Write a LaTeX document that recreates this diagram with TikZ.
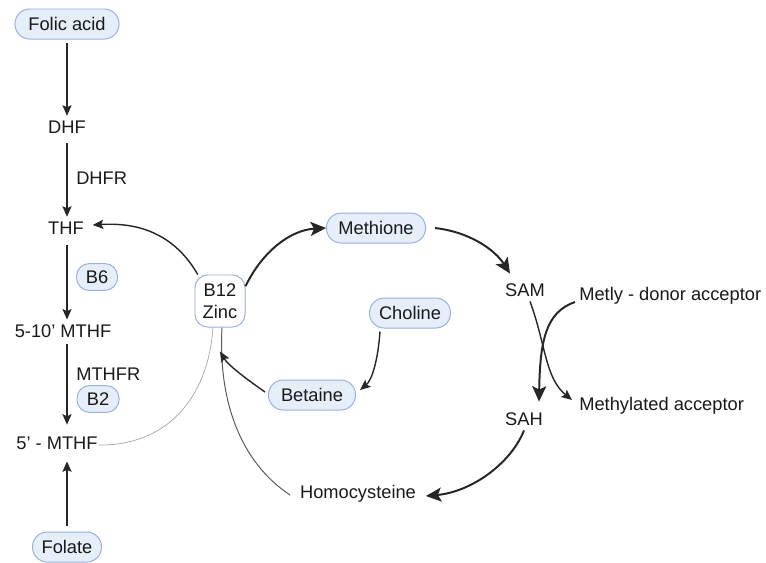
\documentclass[tikz,border=0pt]{standalone}
\usepackage{fontspec}
\setmainfont{Liberation Sans}
\usetikzlibrary{arrows.meta}
\definecolor{pillfill}{HTML}{E6EEFA}
\definecolor{pillline}{HTML}{9AB0DC}
\begin{document}
\begin{tikzpicture}[
          x=0.025cm, y=-0.025cm,
          >={Stealth[length=7.5pt, width=6.5pt, inset=1.5pt]},
          every node/.style={font=\fontsize{13}{15.6}\selectfont, text=black!90},
          pill/.style={draw=pillline, fill=pillfill, line width=0.7pt, rounded corners=10.5pt, minimum height=0.75cm, inner sep=1pt},
          cofactor/.style={pill, minimum height=0.67cm, rounded corners=9pt},
          arr/.style={->, line width=1pt, draw=black!85},
          bigarr/.style={-{Stealth[length=11pt, width=10pt, inset=2.5pt]}, line width=1.4pt, draw=black!85},
          link/.style={line width=0.5pt, draw=black!45}
    ]
    \useasboundingbox (0,0) rectangle (766,562);

    % folate cycle
    \node[pill, minimum width=2.6cm] (folic) at (67,24) {Folic acid};
    \node (dhf) at (67,127) {DHF};
    \node (thf) at (66,228) {THF};
    \node (mthf10) at (63,331) {5-10' MTHF};
    \node (mthf5) at (57,443) {5' - MTHF};
    \node[pill, minimum width=1.725cm] (folate) at (67,547) {Folate};
    \node[anchor=west, inner sep=0pt] (dhfr) at (76,178) {DHFR};
    \node[anchor=west, inner sep=0pt] (mthfr) at (76,374) {MTHFR};
    \node[cofactor, minimum width=1.025cm] (b6) at (97,277) {B6};
    \node[cofactor, minimum width=1.05cm] (b2) at (98,399) {B2};

    \draw[arr] ([shift={(0,3)}]folic.south) -- (dhf.north);
    \draw[arr] ([shift={(0,5)}]dhf.south) -- (dhf.south |- thf.north);
    \draw[arr] ([shift={(0,6)}]dhf.south |- thf.south) -- (dhf.south |- mthf10.north);
    \draw[arr] ([shift={(4,2)}]mthf10.south) -- ([shift={(10,-7)}]mthf5.north);
    \draw[arr] ([shift={(0,-6)}]folate.north) -- ([shift={(10,7)}]mthf5.south);

    % B12 / zinc step
    \node[draw=pillline, fill=white, line width=0.7pt, rounded corners=9pt, minimum width=1.25cm, minimum height=1.3cm, inner sep=1pt, align=center] (b12) at (220,301) {B12\\Zinc};
    \node[pill, minimum width=2.475cm] (methione) at (376,228) {Methione};
    \node[pill, minimum width=2.025cm] (choline) at (410,313) {Choline};
    \node[pill, minimum width=2.175cm] (betaine) at (312,395) {Betaine};
    \node (homocys) at (358,494) {Homocysteine};

    \draw[link, draw=black!35] ([shift={(-4,2)}]mthf5.east) .. controls (165,446) and (208,400) .. ([shift={(-7,0)}]b12.south);
    \draw[link, line width=0.7pt, draw=black!65] ([shift={(-5,1)}]homocys.west) .. controls (240,462) and (218,400) .. ([shift={(2,0)}]b12.south);
    \draw[arr] (b12.130) .. controls (175,235) and (140,222) .. ([shift={(4,-3)}]thf.east);
    \draw[bigarr] (b12.30) .. controls (262,252) and (290,230) .. (methione.west);
    \draw[arr] ([shift={(-30,3)}]choline.south) .. controls (378,360) and (372,380) .. ([shift={(4,-5)}]betaine.east);
    \draw[arr] ([shift={(-3,-3)}]betaine.west) .. controls (245,378) and (228,365) .. ([shift={(0,24)}]b12.south);

    % methylation
    \node (sam) at (525,290) {SAM};
    \node (sah) at (524,419) {SAH};
    \node[anchor=west, inner sep=0pt] (donor) at (579,296) {Metly - donor acceptor};
    \node[anchor=west, inner sep=0pt] (methyl) at (579,406) {Methylated acceptor};

    \draw[bigarr] ([shift={(9,0)}]methione.east) .. controls (470,232) and (495,250) .. ([shift={(-15,-5)}]sam.north);
    \draw[arr] ([shift={(5,0)}]sam.south) .. controls (546,345) and (545,378) .. ([shift={(-7,-6)}]methyl.west);
    \draw[bigarr] ([shift={(-4,6)}]donor.west) .. controls (546,312) and (540,340) .. ([shift={(15,-6)}]sah.north);
    \draw[bigarr] (sah.south) .. controls (510,465) and (470,492) .. ([shift={(5,2)}]homocys.east);

\end{tikzpicture}
\end{document}
